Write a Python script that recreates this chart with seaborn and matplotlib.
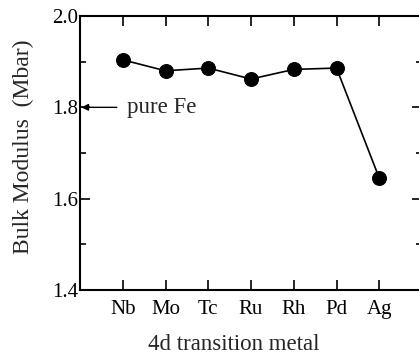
import matplotlib
matplotlib.use("Agg")
import matplotlib.pyplot as plt
import seaborn as sns
from matplotlib.ticker import MultipleLocator

metals = ["Nb", "Mo", "Tc", "Ru", "Rh", "Pd", "Ag"]
bulk_modulus = [1.904, 1.880, 1.886, 1.862, 1.883, 1.886, 1.645]
pure_fe = 1.8

sns.set_style("ticks")
plt.rcParams["font.family"] = ["Liberation Serif", "DejaVu Serif"]
plt.rcParams["font.size"] = 15

fig = plt.figure(figsize=(4.19, 3.58), dpi=100)
ax = fig.add_axes([80 / 419, 68 / 358, 342 / 419, 274 / 358])

sns.lineplot(x=metals, y=bulk_modulus, ax=ax, color="black", lw=1.2,
             marker="o", markersize=10, markeredgecolor="black",
             markerfacecolor="black", sort=False)

ax.set_xlim(-1, 7)
ax.set_ylim(1.4, 2.0)
ax.yaxis.set_major_locator(MultipleLocator(0.2))
ax.yaxis.set_minor_locator(MultipleLocator(0.1))
ax.set_yticklabels([f"{v:.1f}" for v in ax.get_yticks()])
ax.tick_params(which="both", direction="in", top=True, right=True,
               labelsize=15, colors="black", width=1.2)
ax.tick_params(which="major", length=7)
ax.tick_params(which="minor", length=4)
ax.tick_params(axis="x", pad=7)
ax.tick_params(axis="y", pad=1)
for s in ax.spines.values():
    s.set_linewidth(1.5)
    s.set_color("black")

ax.set_xlabel("4d transition metal", fontsize=16.5)
ax.xaxis.set_label_coords((234 - 80) / 342, -(345 - 290) / 274)
ax.xaxis.label.set_va("center")
ax.set_ylabel("Bulk Modulus  (Mbar)", fontsize=17)
ax.yaxis.set_label_coords(-(80 - 23) / 342, (290 - 147) / 274)
ax.yaxis.label.set_va("center")

ax.annotate("pure Fe", xy=(-1, pure_fe), xytext=(0.1, pure_fe),
            fontsize=16.5, va="center", ha="left",
            arrowprops=dict(arrowstyle="-|>", color="black", lw=1.0,
                            mutation_scale=10, shrinkA=5, shrinkB=1))

fig.savefig("out.png", dpi=100)
